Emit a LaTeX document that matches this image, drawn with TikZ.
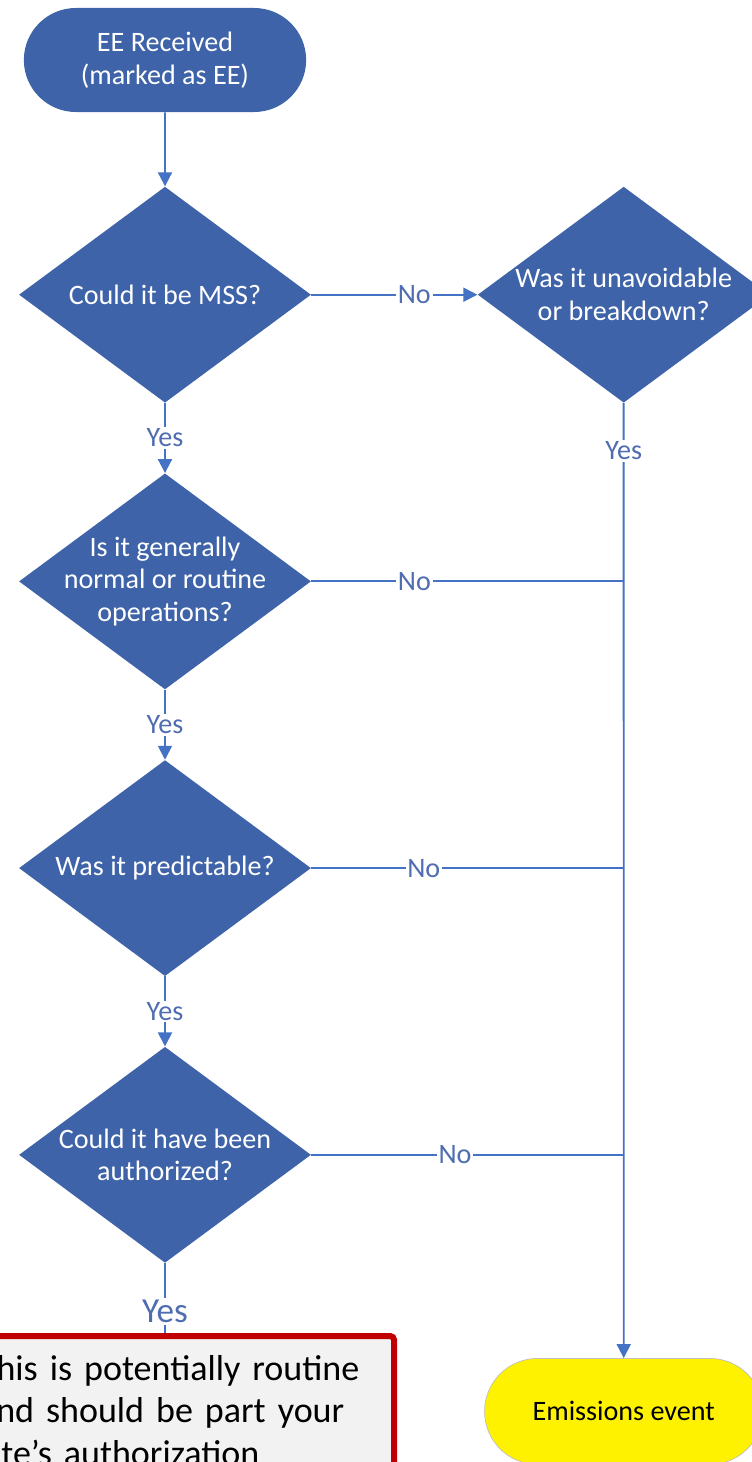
\documentclass[tikz,border=0pt]{standalone}
\usepackage{fontspec}
\setmainfont{Carlito}
\usetikzlibrary{shapes.geometric,shapes.misc,positioning,arrows.meta}
\definecolor{shapeblue}{HTML}{3E63A8}
\definecolor{lineblue}{HTML}{4472C4}
\definecolor{labelblue}{HTML}{4F6DB0}
\definecolor{notered}{HTML}{C00000}
\definecolor{notegray}{HTML}{F2F2F2}

\begin{document}
\begin{tikzpicture}
\tikzstyle{term}=[rounded rectangle, minimum width=5.88cm, minimum height=2.08cm, fill=shapeblue, text=white, align=center, font=\fontsize{16}{18.7}\selectfont]
\tikzstyle{decision}=[diamond, minimum width=5.84cm, minimum height=4.32cm, inner sep=0pt, fill=shapeblue, node distance=1.4cm]
\tikzstyle{inside}=[text=white, align=center, font=\fontsize{16}{18.7}\selectfont]
\tikzstyle{connect}=[-{Triangle[length=2.8mm,width=2.8mm]}, draw=lineblue, line width=1.1pt]
\tikzstyle{wire}=[draw=lineblue, line width=1.1pt]
\tikzstyle{answer}=[fill=white, text=labelblue, inner sep=1pt, font=\fontsize{16}{18}\selectfont]
  \useasboundingbox (0,0) rectangle (15.04,-29.24);
  \clip (0,0) rectangle (15.04,-29.24);

  \node[term] (start) at (3.3,-1.2) {EE Received\\(marked as EE)};
  \node[decision] (mss) [below=1.48cm of start, label={[inside]center:Could it be MSS?}] {};
  \node[decision] (routine) [below=of mss, label={[inside]center:{Is it generally\\normal or routine\\operations?}}] {};
  \node[decision] (predict) [below=of routine, label={[inside]center:Was it predictable?}] {};
  \node[decision] (authorized) [below=of predict, label={[inside]center:{Could it have been\\authorized?}}] {};

  \node[decision] (unavoid) [right=3.32cm of mss, label={[inside]center:{Was it unavoidable\\or breakdown?}}] {};
  \node[term, fill=yellow, draw=black!25, text=black, minimum width=5.8cm, minimum height=2.12cm] (event) [below=19.1cm of unavoid] {Emissions event};

  \coordinate (j2) at (unavoid |- routine);
  \coordinate (j3) at (unavoid |- predict);
  \coordinate (j4) at (unavoid |- authorized);

  \path (start) edge [connect] (mss)
	(mss) edge [connect] node[answer, pos=.62] {No} (unavoid)
	(mss) edge [connect] node[answer] {Yes} (routine)
	(routine) edge [connect] node[answer] {Yes} (predict)
	(predict) edge [connect] node[answer] {Yes} (authorized)
	(unavoid) edge [connect] node[answer, pos=.05] {Yes} (event)
	(routine) edge [wire] node[answer, pos=.33] {No} (j2)
	(predict) edge [wire] node[answer, pos=.36] {No} (j3)
	(authorized) edge [wire] node[answer, pos=.46] {No} (j4);

  \node[rectangle, draw=notered, line width=3.4pt, rounded corners=2pt, fill=notegray, text width=7.86cm, inner xsep=0.44cm, inner ysep=0.39cm, align=left, font=\fontsize{20.5}{24}\selectfont] (note) [below=1.4cm of authorized, anchor=north east, xshift=4.64cm] {This is potentially routine\\and should be part your\\site’s authorization};
  \path (authorized) edge [wire] node[answer, pos=.69, font=\fontsize{20}{22}\selectfont] {Yes} (authorized |- note.north);
\end{tikzpicture}
\end{document}
